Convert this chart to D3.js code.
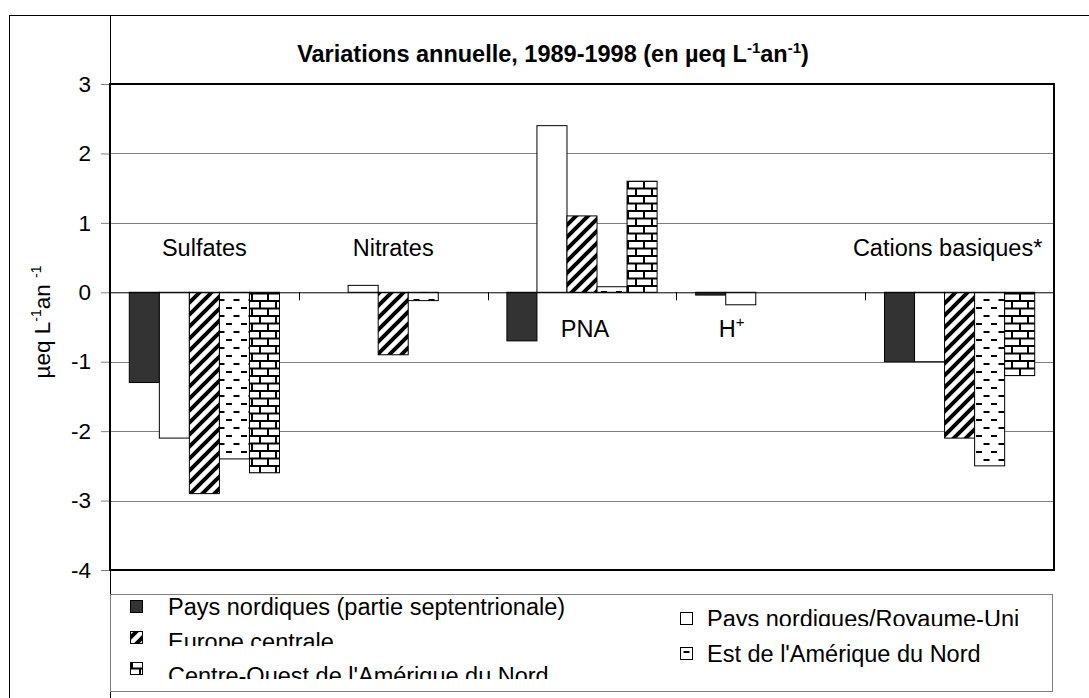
<!DOCTYPE html>
<html><head><meta charset="utf-8">
<script src="https://cdn.jsdelivr.net/npm/d3@7"></script>
<style>body{margin:0;background:#fff} text{font-family:"Liberation Sans",Arial,sans-serif;fill:#000}</style>
</head><body><svg id="c" width="1089" height="698"></svg>
<script>
const categories = ["Sulfates","Nitrates","PNA","H+","Cations basiques*"];
const seriesNames = ["Pays nordiques (partie septentrionale)","Pays nordiques/Royaume-Uni","Europe centrale","Est de l'Amérique du Nord","Centre-Ouest de l'Amérique du Nord"];
const nordiquesSept = [-1.3, 0, -0.7, -0.04, -1.0];
const nordiquesRU = [-2.1, 0.1, 2.4, -0.18, -1.0];
const europeCentrale = [-2.9, -0.9, 1.1, 0, -2.1];
const estAmNord = [-2.4, -0.12, 0.08, 0, -2.5];
const centreOuest = [-2.6, 0, 1.6, 0, -1.2];
const yTicks = [3, 2, 1, 0, -1, -2, -3, -4];

const seriesValues = [nordiquesSept, nordiquesRU, europeCentrale, estAmNord, centreOuest];
const fills = ["#333333", "#ffffff", "url(#p-hatch)", "url(#p-dash)", "url(#p-brick)"];

const svg = d3.select("#c");
const FONT = '"Liberation Sans", Arial, sans-serif';
const FS = 23.5;

// patterns
const defs = svg.append("defs");
const ph = defs.append("pattern").attr("id","p-hatch").attr("patternUnits","userSpaceOnUse").attr("width",12).attr("height",12);
ph.append("rect").attr("width",12).attr("height",12).attr("fill","#fff");
ph.append("path").attr("d","M-3,3 L3,-3 M0,12 L12,0 M9,15 L15,9").attr("stroke","#000").attr("stroke-width",4);
const pd = defs.append("pattern").attr("id","p-dash").attr("patternUnits","userSpaceOnUse").attr("width",15).attr("height",16);
pd.append("rect").attr("width",15).attr("height",16).attr("fill","#fff");
pd.append("rect").attr("x",1).attr("y",3).attr("width",6).attr("height",2).attr("fill","#000");
pd.append("rect").attr("x",8.5).attr("y",11).attr("width",6).attr("height",2).attr("fill","#000");
const pb = defs.append("pattern").attr("id","p-brick").attr("patternUnits","userSpaceOnUse").attr("width",16).attr("height",15);
pb.append("rect").attr("width",16).attr("height",15).attr("fill","#fff");
pb.append("path").attr("d","M0,1 H16 M0,8.5 H16 M4,1 V8.5 M12,8.5 V16").attr("stroke","#000").attr("stroke-width",2);

// outer frame
svg.append("rect").attr("x",9.5).attr("y",15.5).attr("width",1100).attr("height",700).attr("fill","none").attr("stroke","#000");
svg.append("line").attr("x1",110.5).attr("x2",110.5).attr("y1",15).attr("y2",698).attr("stroke","#000");

const L = 110, R = 1054, T = 84, B = 570;
const x = d3.scaleBand().domain(categories).range([L, R]).paddingInner(0).paddingOuter(0);
const xs = d3.scaleBand().domain(d3.range(seriesValues.length)).range([19.3, x.bandwidth()-19.3]).padding(0);
const y = d3.scaleLinear().domain([-4, 3]).range([B, T]);

// gridlines
svg.append("g").selectAll("line").data(yTicks.filter(d => d!==3 && d!==-4 && d!==0)).join("line")
  .attr("x1",L).attr("x2",R).attr("y1",d=>Math.round(y(d))+0.5).attr("y2",d=>Math.round(y(d))+0.5)
  .attr("stroke","#7f7f7f").attr("stroke-width",1);

// y axis
const yAxis = d3.axisLeft(y).tickValues(yTicks).tickSize(9).tickPadding(10).tickFormat(d => String(d));
const ya = svg.append("g").attr("transform",`translate(${L},0)`).call(yAxis);
ya.select(".domain").remove();
ya.selectAll(".tick line").attr("stroke","#7f7f7f");
ya.selectAll(".tick text").attr("font-size",FS-1).attr("font-family",FONT).attr("fill","#000");

// bars
const gBars = svg.append("g");
seriesValues.forEach((vals, si) => {
  gBars.append("g").selectAll("rect").data(vals.map((v,i)=>({v, c: categories[i]})).filter(d=>d.v!==0)).join("rect")
    .attr("x", d => x(d.c) + xs(si))
    .attr("width", xs.bandwidth())
    .attr("y", d => y(Math.max(0, d.v)))
    .attr("height", d => Math.abs(y(d.v) - y(0)))
    .attr("fill", fills[si]).attr("stroke","#000").attr("stroke-width",1);
});

// category axis at zero
const xa = svg.append("g").attr("transform",`translate(0,${y(0)})`)
  .call(d3.axisBottom(x).tickSize(0).tickFormat(""));
xa.select(".domain").attr("stroke","#000").attr("d",`M${L},0.5H${R}`);
svg.append("g").selectAll("line").data(categories.slice(1)).join("line")
  .attr("x1",d=>Math.round(x(d))+0.5).attr("x2",d=>Math.round(x(d))+0.5)
  .attr("y1",y(0)).attr("y2",y(0)+8).attr("stroke","#000");

// plot frame
svg.append("rect").attr("x",L).attr("y",T).attr("width",R-L).attr("height",B-T)
  .attr("fill","none").attr("stroke","#000").attr("stroke-width",2);

// annotations
const annot = [
  {c:"Sulfates", dx:0, v:0.52, anchor:"middle"},
  {c:"Nitrates", dx:0, v:0.52, anchor:"middle"},
  {c:"PNA", dx:3, v:-0.64, anchor:"middle"},
  {c:"H+", dx:-52, v:-0.64, anchor:"start"},
  {c:"Cations basiques*", dx:-12, v:0.52, anchor:"middle"}
];
annot.forEach(a => {
  const t = svg.append("text").attr("x", x(a.c) + x.bandwidth()/2 + a.dx).attr("y", y(a.v))
    .attr("text-anchor",a.anchor).attr("font-size",FS);
  if (a.c === "H+") {
    t.append("tspan").text("H");
    t.append("tspan").attr("dy",-10).attr("font-size",15).text("+");
  } else t.text(a.c);
});

// title
const title = svg.append("text").attr("x",553).attr("y",62).attr("text-anchor","middle")
  .attr("font-size",FS).attr("font-weight","bold");
title.append("tspan").text("Variations annuelle, 1989-1998 (en µeq L");
title.append("tspan").attr("dy",-9).attr("font-size",15).text("-1");
title.append("tspan").attr("dy",9).text("an");
title.append("tspan").attr("dy",-9).attr("font-size",15).text("-1");
title.append("tspan").attr("dy",9).text(")");

// y label
const yl = svg.append("text").attr("transform","translate(50,322) rotate(-90)").attr("text-anchor","middle").attr("font-size",FS-1);
yl.append("tspan").text("µeq L");
yl.append("tspan").attr("dy",-9).attr("font-size",14).text("-1");
yl.append("tspan").attr("dy",9).text("an ");
yl.append("tspan").attr("dy",-9).attr("font-size",14).text("-1");

// legend
svg.append("rect").attr("x",110.5).attr("y",594.5).attr("width",942).attr("height",97)
  .attr("fill","#fff").attr("stroke","#7f7f7f");
const legendItems = [
  {s:0, ix:130, iy:600, tx:168, ty:615, clip:700},
  {s:2, ix:130, iy:631, tx:168, ty:650, clip:646},
  {s:4, ix:130, iy:662, tx:168, ty:684, clip:679},
  {s:1, ix:680, iy:612, tx:707, ty:627, clip:626},
  {s:3, ix:680, iy:647, tx:707, ty:662, clip:700}
];
legendItems.forEach((it, k) => {
  defs.append("clipPath").attr("id","lc"+k).append("rect").attr("x",0).attr("y",0).attr("width",1089).attr("height",it.clip);
  svg.append("rect").attr("x",it.ix+0.5).attr("y",it.iy+0.5).attr("width",12).attr("height",12)
    .attr("fill",fills[it.s]).attr("stroke","#000");
  svg.append("text").attr("x",it.tx).attr("y",it.ty).attr("font-size",FS).attr("clip-path",`url(#lc${k})`)
    .text(seriesNames[it.s]);
});
</script></body></html>
